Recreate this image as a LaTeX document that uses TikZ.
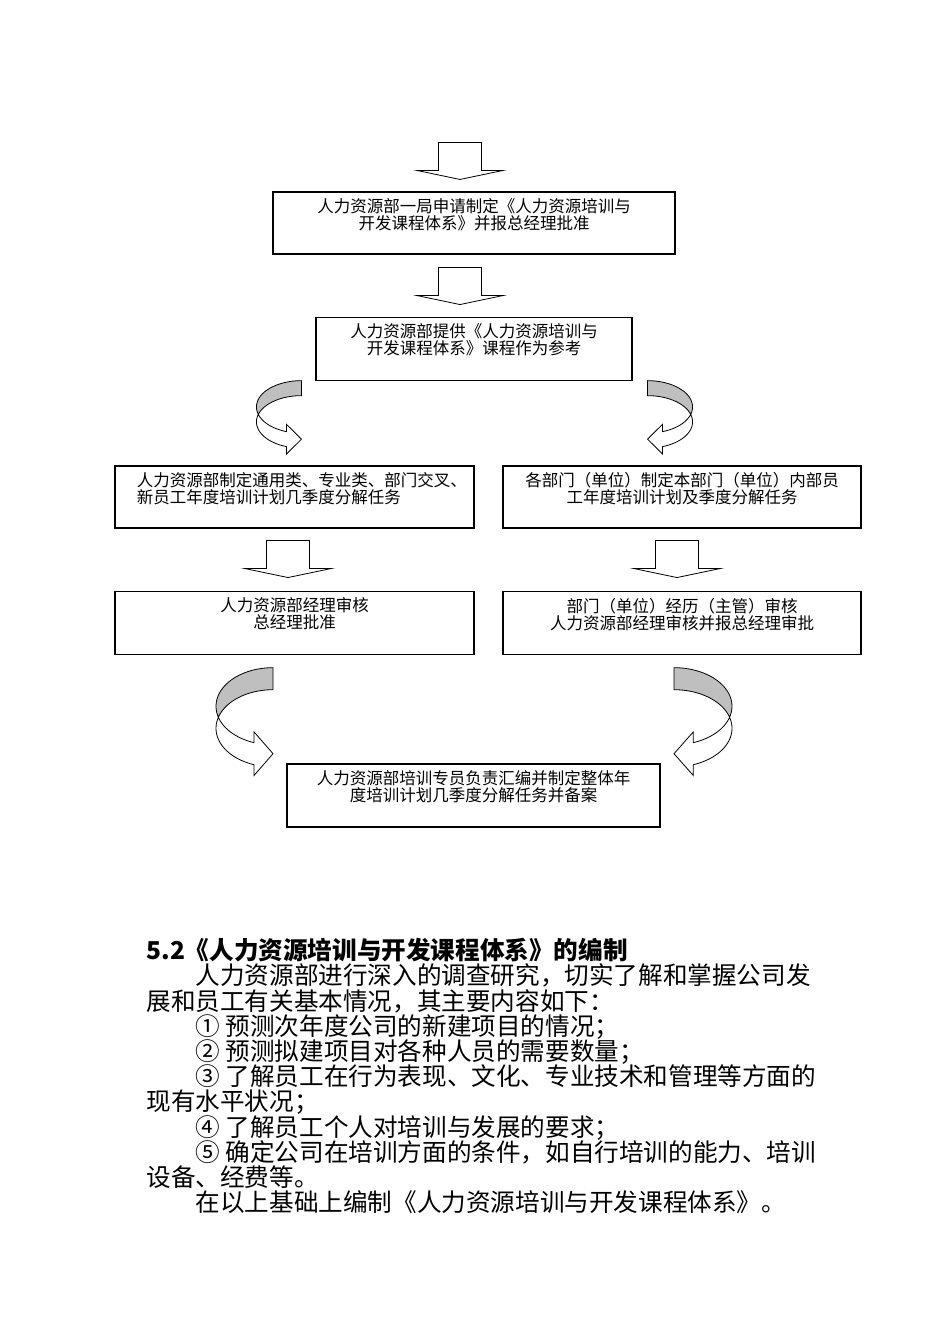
\documentclass[tikz,border=0pt]{standalone}
\usepackage{fontspec}
\setmainfont{Noto Sans CJK SC}
\usetikzlibrary{positioning}
\newcommand\boxfont{\fontsize{16.5pt}{17pt}\selectfont}
\newcommand\bodyfont{\fontsize{24.6pt}{25.2pt}\selectfont}

\begin{document}
\begin{tikzpicture}[
        x=1pt, y=-1pt,
        line width=0.8pt,
        stepbox/.style={draw, line width=1.1pt, inner sep=0pt, minimum height=62pt},
        boxtext/.style={font=\boxfont, align=center, anchor=north, inner sep=0pt},
        downarrow/.pic={
            \draw[fill=white] (-21.5,0) -- (21.5,0) -- (21.5,28) -- (43,28)
                -- (0,37) -- (-43,28) -- (-21.5,28) -- cycle;
        },
        turnarrow/.pic={
            % back of the band
            \draw[fill=gray!50] plot[variable=\t, domain=270:163.4, samples=30] ({cos(\t)}, {1+sin(\t)})
                -- plot[variable=\t, domain=196.6:270, samples=30] ({cos(\t)}, {1.571+sin(\t)}) -- cycle;
            % front of the band, with the head
            \draw[fill=white] plot[variable=\t, domain=163.4:109.47, samples=30] ({cos(\t)}, {1+sin(\t)})
                -- (-0.333,1.663) -- (0,2.229) -- (-0.333,2.794)
                -- plot[variable=\t, domain=109.47:196.6, samples=30] ({cos(\t)}, {1.571+sin(\t)}) -- cycle;
        }
    ]
    \useasboundingbox (0,0) rectangle (950,1344);

    % --- Boxes ---
    \node[stepbox, minimum width=402pt] (apply) at (474,223) {};
    \node[boxtext] (apply-t) at ([yshift=-7pt]apply.north) {人力资源部一局申请制定《人力资源培训与\\开发课程体系》并报总经理批准};

    \node[stepbox, minimum width=316pt, minimum height=63pt, below=62pt of apply] (offer) {};
    \node[boxtext] (offer-t) at ([yshift=-7pt]offer.north) {人力资源部提供《人力资源培训与\\开发课程体系》课程作为参考};

    \node[stepbox, minimum width=359pt] (planl) at (294.5,497) {};
    \node[boxtext, anchor=north west, align=left] (planl-t) at ([xshift=22pt, yshift=-7pt]planl.north west) {人力资源部制定通用类、专业类、部门交叉、\\新员工年度培训计划几季度分解任务};

    \node[stepbox, minimum width=358pt] (planr) at (682,497) {};
    \node[boxtext] (planr-t) at ([yshift=-7pt]planr.north) {各部门（单位）制定本部门（单位）内部员\\工年度培训计划及季度分解任务};

    \node[stepbox, minimum width=359pt, minimum height=63pt, below=62pt of planl] (checkl) {};
    \node[boxtext] (checkl-t) at ([yshift=-7pt]checkl.north) {人力资源部经理审核\\总经理批准};

    \node[stepbox, minimum width=358pt, minimum height=63pt, below=62pt of planr] (checkr) {};
    \node[boxtext] (checkr-t) at ([yshift=-7pt]checkr.north) {部门（单位）经历（主管）审核\\人力资源部经理审核并报总经理审批};

    \node[stepbox, minimum width=373pt, minimum height=63pt] (merge) at (473.5,795.5) {};
    \node[boxtext] (merge-t) at ([yshift=-7pt]merge.north) {人力资源部培训专员负责汇编并制定整体年\\度培训计划几季度分解任务并备案};

    % --- Block arrows ---
    \coordinate (in) at ([xshift=-14pt, yshift=49pt]apply.north);
    \coordinate (apply-out) at ([xshift=-14pt, yshift=-13pt]apply.south);
    \coordinate (planl-out) at ([xshift=-6.5pt, yshift=-12pt]planl.south);
    \coordinate (planr-out) at ([xshift=-5pt, yshift=-12pt]planr.south);
    \pic at (in) {downarrow};
    \pic at (apply-out) {downarrow};
    \pic at (planl-out) {downarrow};
    \pic at (planr-out) {downarrow};

    % --- Turning arrows ---
    \coordinate (offer-l) at ([xshift=-14pt]offer.south west);
    \coordinate (offer-r) at ([xshift=15pt]offer.south east);
    \coordinate (checkl-out) at ([xshift=-21.5pt, yshift=-13pt]checkl.south);
    \coordinate (checkr-out) at ([xshift=-8pt, yshift=-13pt]checkr.south);
    \pic[xscale=45, yscale=26.25] at (offer-l) {turnarrow};
    \pic[xscale=-45, yscale=26.25] at (offer-r) {turnarrow};
    \pic[xscale=57, yscale=38.6] at (checkl-out) {turnarrow};
    \pic[xscale=-58, yscale=38.6] at (checkr-out) {turnarrow};

    % --- Text below ---
    \node[anchor=north west, align=left, inner sep=0pt, font=\bodyfont] (body) at (146,938) {%
        \textbf{5.2《人力资源培训与开发课程体系》的编制}\\
        \hspace*{2em}人力资源部进行深入的调查研究，切实了解和掌握公司发\\
        展和员工有关基本情况，其主要内容如下：\\
        \hspace*{2em}① 预测次年度公司的新建项目的情况；\\
        \hspace*{2em}② 预测拟建项目对各种人员的需要数量；\\
        \hspace*{2em}③ 了解员工在行为表现、文化、专业技术和管理等方面的\\
        现有水平状况；\\
        \hspace*{2em}④ 了解员工个人对培训与发展的要求；\\
        \hspace*{2em}⑤ 确定公司在培训方面的条件，如自行培训的能力、培训\\
        设备、经费等。\\
        \hspace*{2em}在以上基础上编制《人力资源培训与开发课程体系》。};
\end{tikzpicture}
\end{document}
